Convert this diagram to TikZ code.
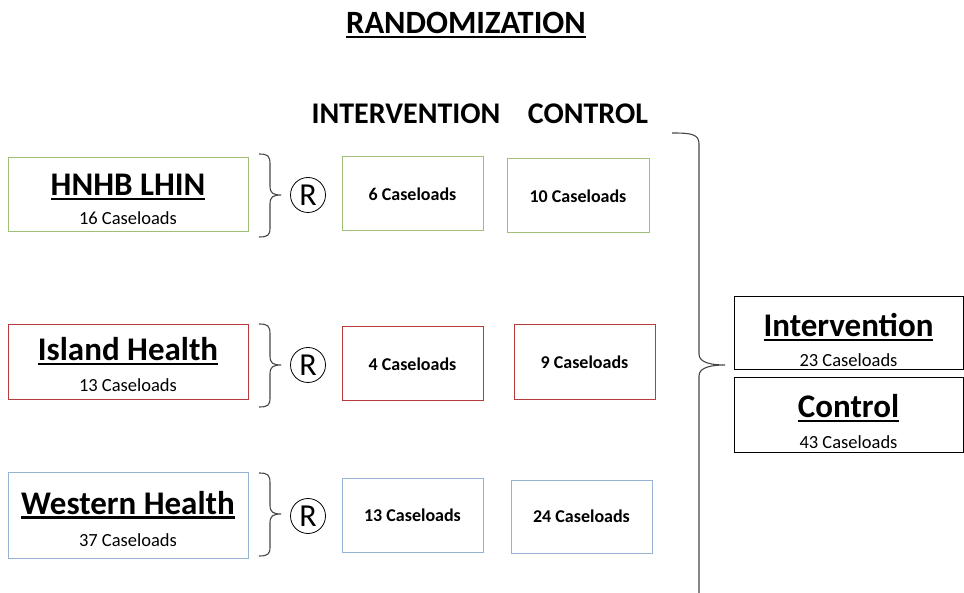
\documentclass[tikz,border=0pt]{standalone}
\usepackage{fontspec}
\setmainfont{Carlito}
\definecolor{hgreen}{RGB}{160,192,120}
\definecolor{hred}{RGB}{180,60,60}
\definecolor{hblue}{RGB}{150,178,212}
\definecolor{bracegray}{RGB}{70,70,70}
% underlined heading text
\newcommand{\hd}[1]{\setbox0\hbox{#1}\rlap{\rule[-4.5pt]{\wd0}{2.2pt}}\box0}
\tikzset{
  box/.style={draw, line width=1pt, inner sep=0pt, minimum width=#1},
  title/.style={anchor=base, font=\fontsize{33}{36}\selectfont\bfseries},
  count/.style={anchor=base, font=\fontsize{18.5}{20}\selectfont},
  arm/.style={font=\fontsize{18}{20}\selectfont\bfseries},
  head/.style={font=\fontsize{30}{32}\selectfont\bfseries},
  rnd/.style={draw, circle, line width=0.8pt, minimum size=35pt, inner sep=0pt, font=\fontsize{32}{32}\selectfont},
  brace/.style={draw=bracegray, line width=1.1pt}
}
\begin{document}
\begin{tikzpicture}[x=1pt,y=-1pt]
\useasboundingbox (0,0) rectangle (964,593);
\node[head, font=\fontsize{32.5}{34}\selectfont\bfseries] (rand) at (466,25) {\hd{RANDOMIZATION}};
\node[head] (hint) at (406,114) {INTERVENTION};
\node[head] (hcon) at (588,114) {CONTROL};
% regions
\node[box=240, minimum height=74, draw=hgreen] (hnhb) at (128,195) {};
\node[title] at (128,196) {\hd{HNHB LHIN}};
\node[count] at (128,225) {16 Caseloads};
\node[box=240, minimum height=75, draw=hred] (island) at (128,362) {};
\node[title] at (128,361) {\hd{Island Health}};
\node[count] at (128,392) {13 Caseloads};
\node[box=240, minimum height=86, draw=hblue] (western) at (128,515) {};
\node[title] at (128,514) {\hd{Western Health}};
\node[count] at (128,546) {37 Caseloads};
% randomised arms
\node[box=141, minimum height=74, draw=hgreen, arm] (int1) at (412.5,194) {6 Caseloads};
\node[box=142, minimum height=74, draw=hgreen, arm] (con1) at (578,196) {10 Caseloads};
\node[box=141, minimum height=74, draw=hred, arm] (int2) at (412.5,364) {4 Caseloads};
\node[box=141, minimum height=75, draw=hred, arm] (con2) at (584.5,362.5) {9 Caseloads};
\node[box=141, minimum height=74, draw=hblue, arm] (int3) at (412.5,515) {13 Caseloads};
\node[box=141, minimum height=73, draw=hblue, arm] (con3) at (581.5,516.5) {24 Caseloads};
\node[rnd] (r1) at (308,195) {R};
\node[rnd] (r2) at (308,365) {R};
\node[rnd] (r3) at (308,516) {R};
\foreach \yc in {195,365,514}
  \draw[brace] (259,\yc-41) .. controls (268,\yc-41) and (270,\yc-39) .. (270,\yc-31)
    -- (270,\yc-9) .. controls (270,\yc-2) and (273,\yc) .. (281,\yc)
    .. controls (273,\yc) and (270,\yc+2) .. (270,\yc+9)
    -- (270,\yc+33) .. controls (270,\yc+40) and (268,\yc+42) .. (259,\yc+42);
% totals
\node[box=229, minimum height=73, draw=black] (tint) at (848.5,333.5) {};
\node[title] at (848.5,337) {\hd{Intervention}};
\node[count] at (848.5,367) {23 Caseloads};
\node[box=229, minimum height=74, draw=black] (tcon) at (848.5,415) {};
\node[title] at (848.5,418) {\hd{Control}};
\node[count] at (848.5,448) {43 Caseloads};
\draw[brace] (672,133) .. controls (691,133) and (699,134) .. (699,144)
  -- (699,354) .. controls (699,363) and (712,365) .. (725,365)
  .. controls (712,365) and (699,367) .. (699,376) -- (699,593);
\end{tikzpicture}
\end{document}
